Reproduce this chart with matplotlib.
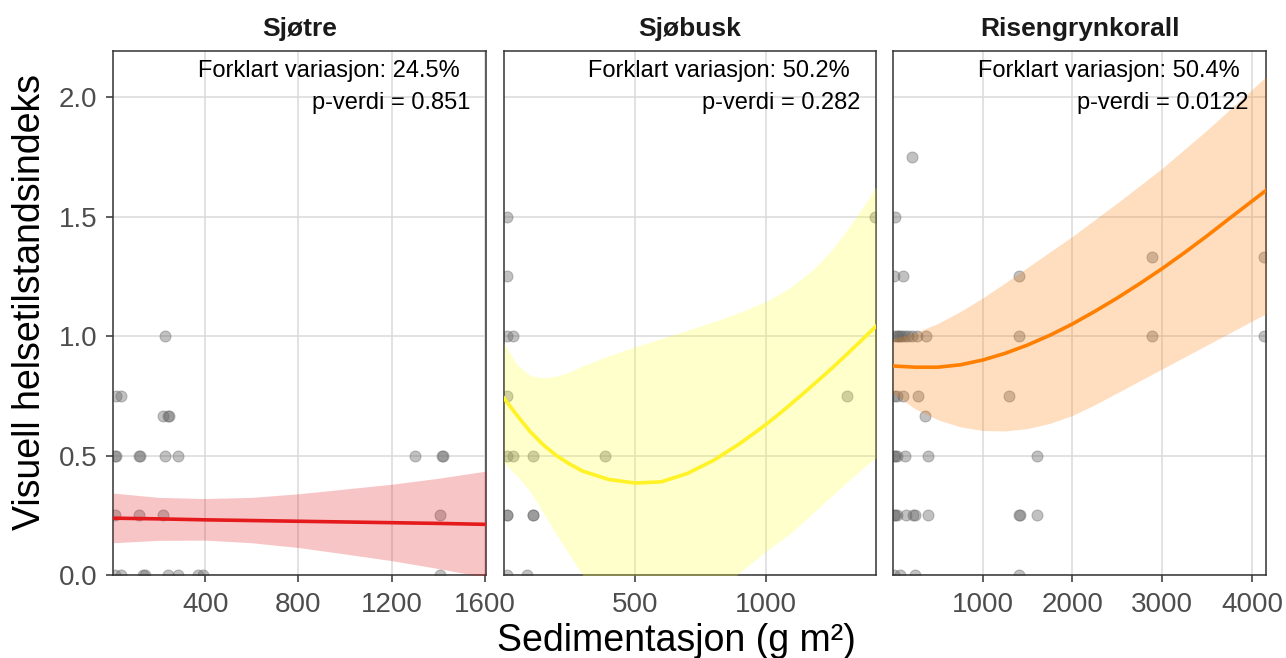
import numpy as np
import matplotlib
matplotlib.use("Agg")
import matplotlib.pyplot as plt
from matplotlib.transforms import ScaledTranslation

plt.rcParams['font.family'] = ['Liberation Sans', 'DejaVu Sans']

# ---------------------------------------------------------------- data
panel_names = ["Sjøtre", "Sjøbusk", "Risengrynkorall"]
explained_variation = ["24.5%", "50.2%", "50.4%"]
p_values = ["0.851", "0.282", "0.0122"]
x_tick_values = [[400, 800, 1200, 1600], [500, 1000], [1000, 2000, 3000, 4000]]
x_limits = [(5, 1604), (0, 1420), (0, 4156)]
y_tick_values = [0.0, 0.5, 1.0, 1.5, 2.0]
y_limits = (0.0, 2.195)
series_colors = ["#E41A1C", "#FFF226", "#FF7F00"]
ribbon_colors = ["#E41A1C", "#FFFF33", "#FF7F00"]

# observations: sedimentation (x) and health index (y)
sjotre_x = [20, 41, 227, 220, 241, 245, 13, 16, 116, 120, 227, 283, 1300, 1416, 1420,
            13, 116, 219, 1407, 13, 41, 133, 142, 240, 283, 369, 390, 1407]
sjotre_y = [0.75, 0.75, 1.0, 0.667, 0.667, 0.667, 0.5, 0.5, 0.5, 0.5, 0.5, 0.5, 0.5, 0.5, 0.5,
            0.25, 0.25, 0.25, 0.25, 0, 0, 0, 0, 0, 0, 0, 0, 0]

sjobusk_x = [10, 10, 10, 35, 10, 10, 35, 109, 385, 10, 12, 109, 111, 10, 86, 1308, 1416]
sjobusk_y = [1.5, 1.25, 1.0, 1.0, 0.75, 0.5, 0.5, 0.5, 0.5, 0.25, 0.25, 0.25, 0.25, 0, 0, 0.75, 1.5]

risen_x = [212, 22, 15, 115, 1408,
           15, 40, 60, 78, 100, 134, 171, 208, 264, 365, 1408, 2884, 4129,
           2884, 4129,
           15, 41, 115, 275, 1297,
           357,
           15, 20, 41, 134, 387, 1602,
           15, 20, 41, 141, 226, 245, 387, 1408, 1415, 1602,
           15, 78, 245, 1408]
risen_y = [1.75, 1.5, 1.25, 1.25, 1.25,
           1.0, 1.0, 1.0, 1.0, 1.0, 1.0, 1.0, 1.0, 1.0, 1.0, 1.0, 1.0, 1.0,
           1.333, 1.333,
           0.75, 0.75, 0.75, 0.75, 0.75,
           0.667,
           0.5, 0.5, 0.5, 0.5, 0.5, 0.5,
           0.25, 0.25, 0.25, 0.25, 0.25, 0.25, 0.25, 0.25, 0.25, 0.25,
           0, 0, 0, 0]

# fitted trend with confidence band
sjotre_grid = [5, 200, 400, 600, 800, 1000, 1200, 1400, 1604]
sjotre_fit = [0.238, 0.235, 0.231, 0.228, 0.225, 0.222, 0.219, 0.216, 0.212]
sjotre_hi = [0.343, 0.325, 0.320, 0.325, 0.340, 0.360, 0.380, 0.405, 0.435]
sjotre_lo = [0.135, 0.145, 0.146, 0.135, 0.115, 0.088, 0.060, 0.027, -0.010]

sjobusk_grid = [0, 50, 100, 150, 200, 250, 300, 400, 500, 600, 700, 800, 900, 1000,
                1050, 1100, 1150, 1200, 1250, 1300, 1350, 1400, 1420]
sjobusk_fit = [0.740, 0.668, 0.600, 0.545, 0.500, 0.465, 0.435, 0.400, 0.385, 0.390, 0.425,
               0.480, 0.550, 0.630, 0.674, 0.720, 0.767, 0.815, 0.864, 0.915, 0.967,
               1.020, 1.041]
sjobusk_hi = [0.970, 0.880, 0.835, 0.825, 0.832, 0.850, 0.875, 0.918, 0.955, 0.990, 1.025,
              1.060, 1.100, 1.145, 1.175, 1.210, 1.252, 1.300, 1.360, 1.430, 1.508,
              1.590, 1.625]
sjobusk_lo = [0.470, 0.415, 0.350, 0.260, 0.170, 0.085, 0.000, -0.140, -0.200, -0.200,
              -0.150, -0.080, 0.010, 0.100, 0.140, 0.180, 0.230, 0.280, 0.330, 0.380,
              0.428, 0.475, 0.490]

risen_grid = [0, 250, 500, 750, 1000, 1250, 1500, 1750, 2000, 2250, 2500, 2750, 3000,
              3250, 3500, 3750, 4000, 4156]
risen_fit = [0.875, 0.870, 0.870, 0.880, 0.900, 0.928, 0.963, 1.004, 1.051, 1.104, 1.160,
             1.220, 1.283, 1.350, 1.420, 1.493, 1.565, 1.610]
risen_hi = [0.990, 1.015, 1.053, 1.103, 1.160, 1.223, 1.288, 1.353, 1.418, 1.488, 1.558,
            1.630, 1.703, 1.783, 1.863, 1.948, 2.033, 2.086]
risen_lo = [0.760, 0.695, 0.650, 0.620, 0.605, 0.603, 0.613, 0.635, 0.668, 0.713, 0.763,
            0.813, 0.863, 0.913, 0.963, 1.013, 1.063, 1.094]

points = [(sjotre_x, sjotre_y), (sjobusk_x, sjobusk_y), (risen_x, risen_y)]
trends = [(sjotre_grid, sjotre_fit, sjotre_lo, sjotre_hi),
          (sjobusk_grid, sjobusk_fit, sjobusk_lo, sjobusk_hi),
          (risen_grid, risen_fit, risen_lo, risen_hi)]

# ---------------------------------------------------------------- layout
W, H = 1286, 658
fig = plt.figure(figsize=(W / 100, H / 100), dpi=100)
fig.patch.set_facecolor("white")

panel_boxes = [(113, 50.7, 486, 575), (504, 50.7, 876, 575), (893, 50.7, 1266, 575)]

grid_color = "#DADADA"
frame_color = "#333333"
tick_text_color = "#4D4D4D"

axes = []
for i, (l, t, r, b) in enumerate(panel_boxes):
    ax = fig.add_axes([l / W, 1 - b / H, (r - l) / W, (b - t) / H])
    axes.append(ax)
    ax.set_xlim(*x_limits[i])
    ax.set_ylim(*y_limits)
    ax.set_xticks(x_tick_values[i])
    ax.set_xticklabels([str(v) for v in x_tick_values[i]])
    ax.set_yticks(y_tick_values)
    ax.grid(True, color=grid_color, linewidth=1.1)
    ax.set_axisbelow(True)
    for sp in ax.spines.values():
        sp.set_color(frame_color)
        sp.set_linewidth(1.1)
    ax.tick_params(axis="both", direction="out", length=5, width=1.1, color=frame_color,
                   labelsize=20, labelcolor=tick_text_color)
    ax.tick_params(axis="x", pad=7)
    if i == 0:
        ax.set_yticklabels([f"{v:.1f}" for v in y_tick_values])
        ax.tick_params(axis="y", pad=6.5)
    else:
        ax.tick_params(axis="y", labelleft=False, length=0)

    px, py = points[i]
    ax.scatter(px, py, s=62, facecolor=(0.4, 0.4, 0.4, 0.4),
               edgecolor=(0.4, 0.4, 0.4, 0.4), linewidth=0.8, zorder=2)

    gx, gfit, glo, ghi = trends[i]
    ax.fill_between(gx, glo, ghi, color=ribbon_colors[i], alpha=0.25, linewidth=0, zorder=3)
    ax.plot(gx, gfit, color=series_colors[i], linewidth=2.6, zorder=4,
            solid_joinstyle="round")

    # facet title above the panel
    ax.text(0.5, 1, panel_names[i], ha="center", va="baseline",
            transform=ax.transAxes + ScaledTranslation(0, 14.7 / 100, fig.dpi_scale_trans),
            fontsize=19, fontweight="bold", color="#1A1A1A")

# model statistics, right-aligned with a margin of a tenth of the text width
fig.canvas.draw()
renderer = fig.canvas.get_renderer()
for i, ax in enumerate(axes):
    lines = [f"Forklart variasjon: {explained_variation[i]}", f"p-verdi = {p_values[i]}"]
    drops = [-26.0, -58.3]
    for txt, dy in zip(lines, drops):
        a = ax.annotate(txt, xy=(1, 1), xycoords="axes fraction", xytext=(0, dy),
                        textcoords="offset pixels", ha="right", va="baseline",
                        fontsize=17, color="black", annotation_clip=False)
        w = a.get_window_extent(renderer).width
        a.xyann = (-0.1 * w, dy)

fig.text(676 / W, 1 - 651 / H, "Sedimentasjon (g m²)", ha="center", va="baseline",
         fontsize=27, color="black")
fig.text(30 / W, 1 - 302 / H, "Visuell helsetilstandsindeks", ha="center", va="center",
         rotation=90, fontsize=27, color="black")

fig.savefig("out.png", dpi=100, facecolor="white")
